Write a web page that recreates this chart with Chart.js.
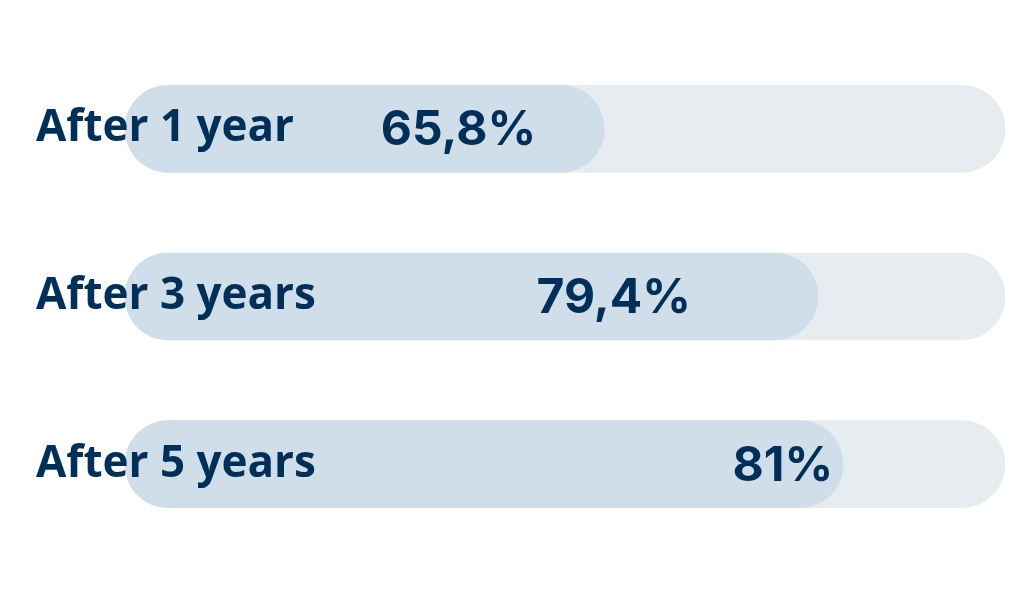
<!DOCTYPE html>
<html>
<head>
<meta charset="utf-8">
<script src="https://cdn.jsdelivr.net/npm/chart.js@4"></script>
<style>
  html, body { margin: 0; padding: 0; background: #fff; }
  #wrap { width: 1024px; height: 600px; }
</style>
</head>
<body>
<div id="wrap"><canvas id="chart" width="1024" height="600"></canvas></div>
<script>
// --- datos ---
const categories = ['After 1 year', 'After 3 years', 'After 5 years'];
const values = [65.8, 79.4, 81];
const valueLabels = ['65,8%', '79,4%', '81%'];

// escala (la barra de fondo llega hasta el máximo)
const AXIS_MIN = 35.3;
const AXIS_MAX = 91.3;

// --- estilos ---
const NAVY = '#00305a';
const BAR_COLOR = '#d0deea';
const TRACK_COLOR = '#e7ecf1';
const LABEL_INSET = [68, 127, 10]; // cuánto entra la etiqueta dentro de la barra
const AXIS_WIDTH = 89;

Chart.defaults.font.family = "Inter, 'DejaVu Sans', sans-serif";

// etiquetas de valor dentro de la barra
const valueLabelPlugin = {
    id: 'valueLabels',
    afterDatasetsDraw(chart) {
        const meta = chart.getDatasetMeta(1);
        const ctx = chart.ctx;
        ctx.save();
        ctx.font = "700 48px Inter, 'DejaVu Sans', sans-serif";
        ctx.fillStyle = NAVY;
        ctx.textAlign = 'right';
        ctx.textBaseline = 'middle';
        meta.data.forEach((bar, i) => {
            ctx.fillText(valueLabels[i], bar.x - LABEL_INSET[i], bar.y + 2);
        });
        ctx.restore();
    }
};

new Chart(document.getElementById('chart').getContext('2d'), {
    type: 'bar',
    data: {
        labels: categories,
        datasets: [
            {
                label: 'track',
                data: categories.map(() => AXIS_MAX),
                backgroundColor: TRACK_COLOR,
                borderRadius: 100,
                borderSkipped: false,
                barThickness: 87,
                base: AXIS_MIN,
                grouped: false,
                order: 2
            },
            {
                label: 'value',
                data: values,
                backgroundColor: BAR_COLOR,
                borderRadius: 100,
                borderSkipped: false,
                barThickness: 87,
                base: AXIS_MIN,
                grouped: false,
                order: 1
            }
        ]
    },
    options: {
        indexAxis: 'y',
        responsive: false,
        animation: false,
        layout: { padding: { left: 36, right: 19, top: 45, bottom: 52 } },
        plugins: {
            legend: { display: false },
            tooltip: { enabled: false }
        },
        scales: {
            x: {
                display: false,
                min: AXIS_MIN,
                max: AXIS_MAX
            },
            y: {
                grid: { display: false },
                border: { display: false },
                afterFit: (scale) => { scale.width = AXIS_WIDTH; },
                ticks: {
                    z: 1, // encima de las barras
                    mirror: true, // sin recorte, el texto pisa la barra
                    padding: -AXIS_WIDTH,
                    color: NAVY,
                    font: { family: "'Open Sans', sans-serif", size: 44, weight: '700' }
                }
            }
        }
    },
    plugins: [valueLabelPlugin]
});
</script>
</body>
</html>
